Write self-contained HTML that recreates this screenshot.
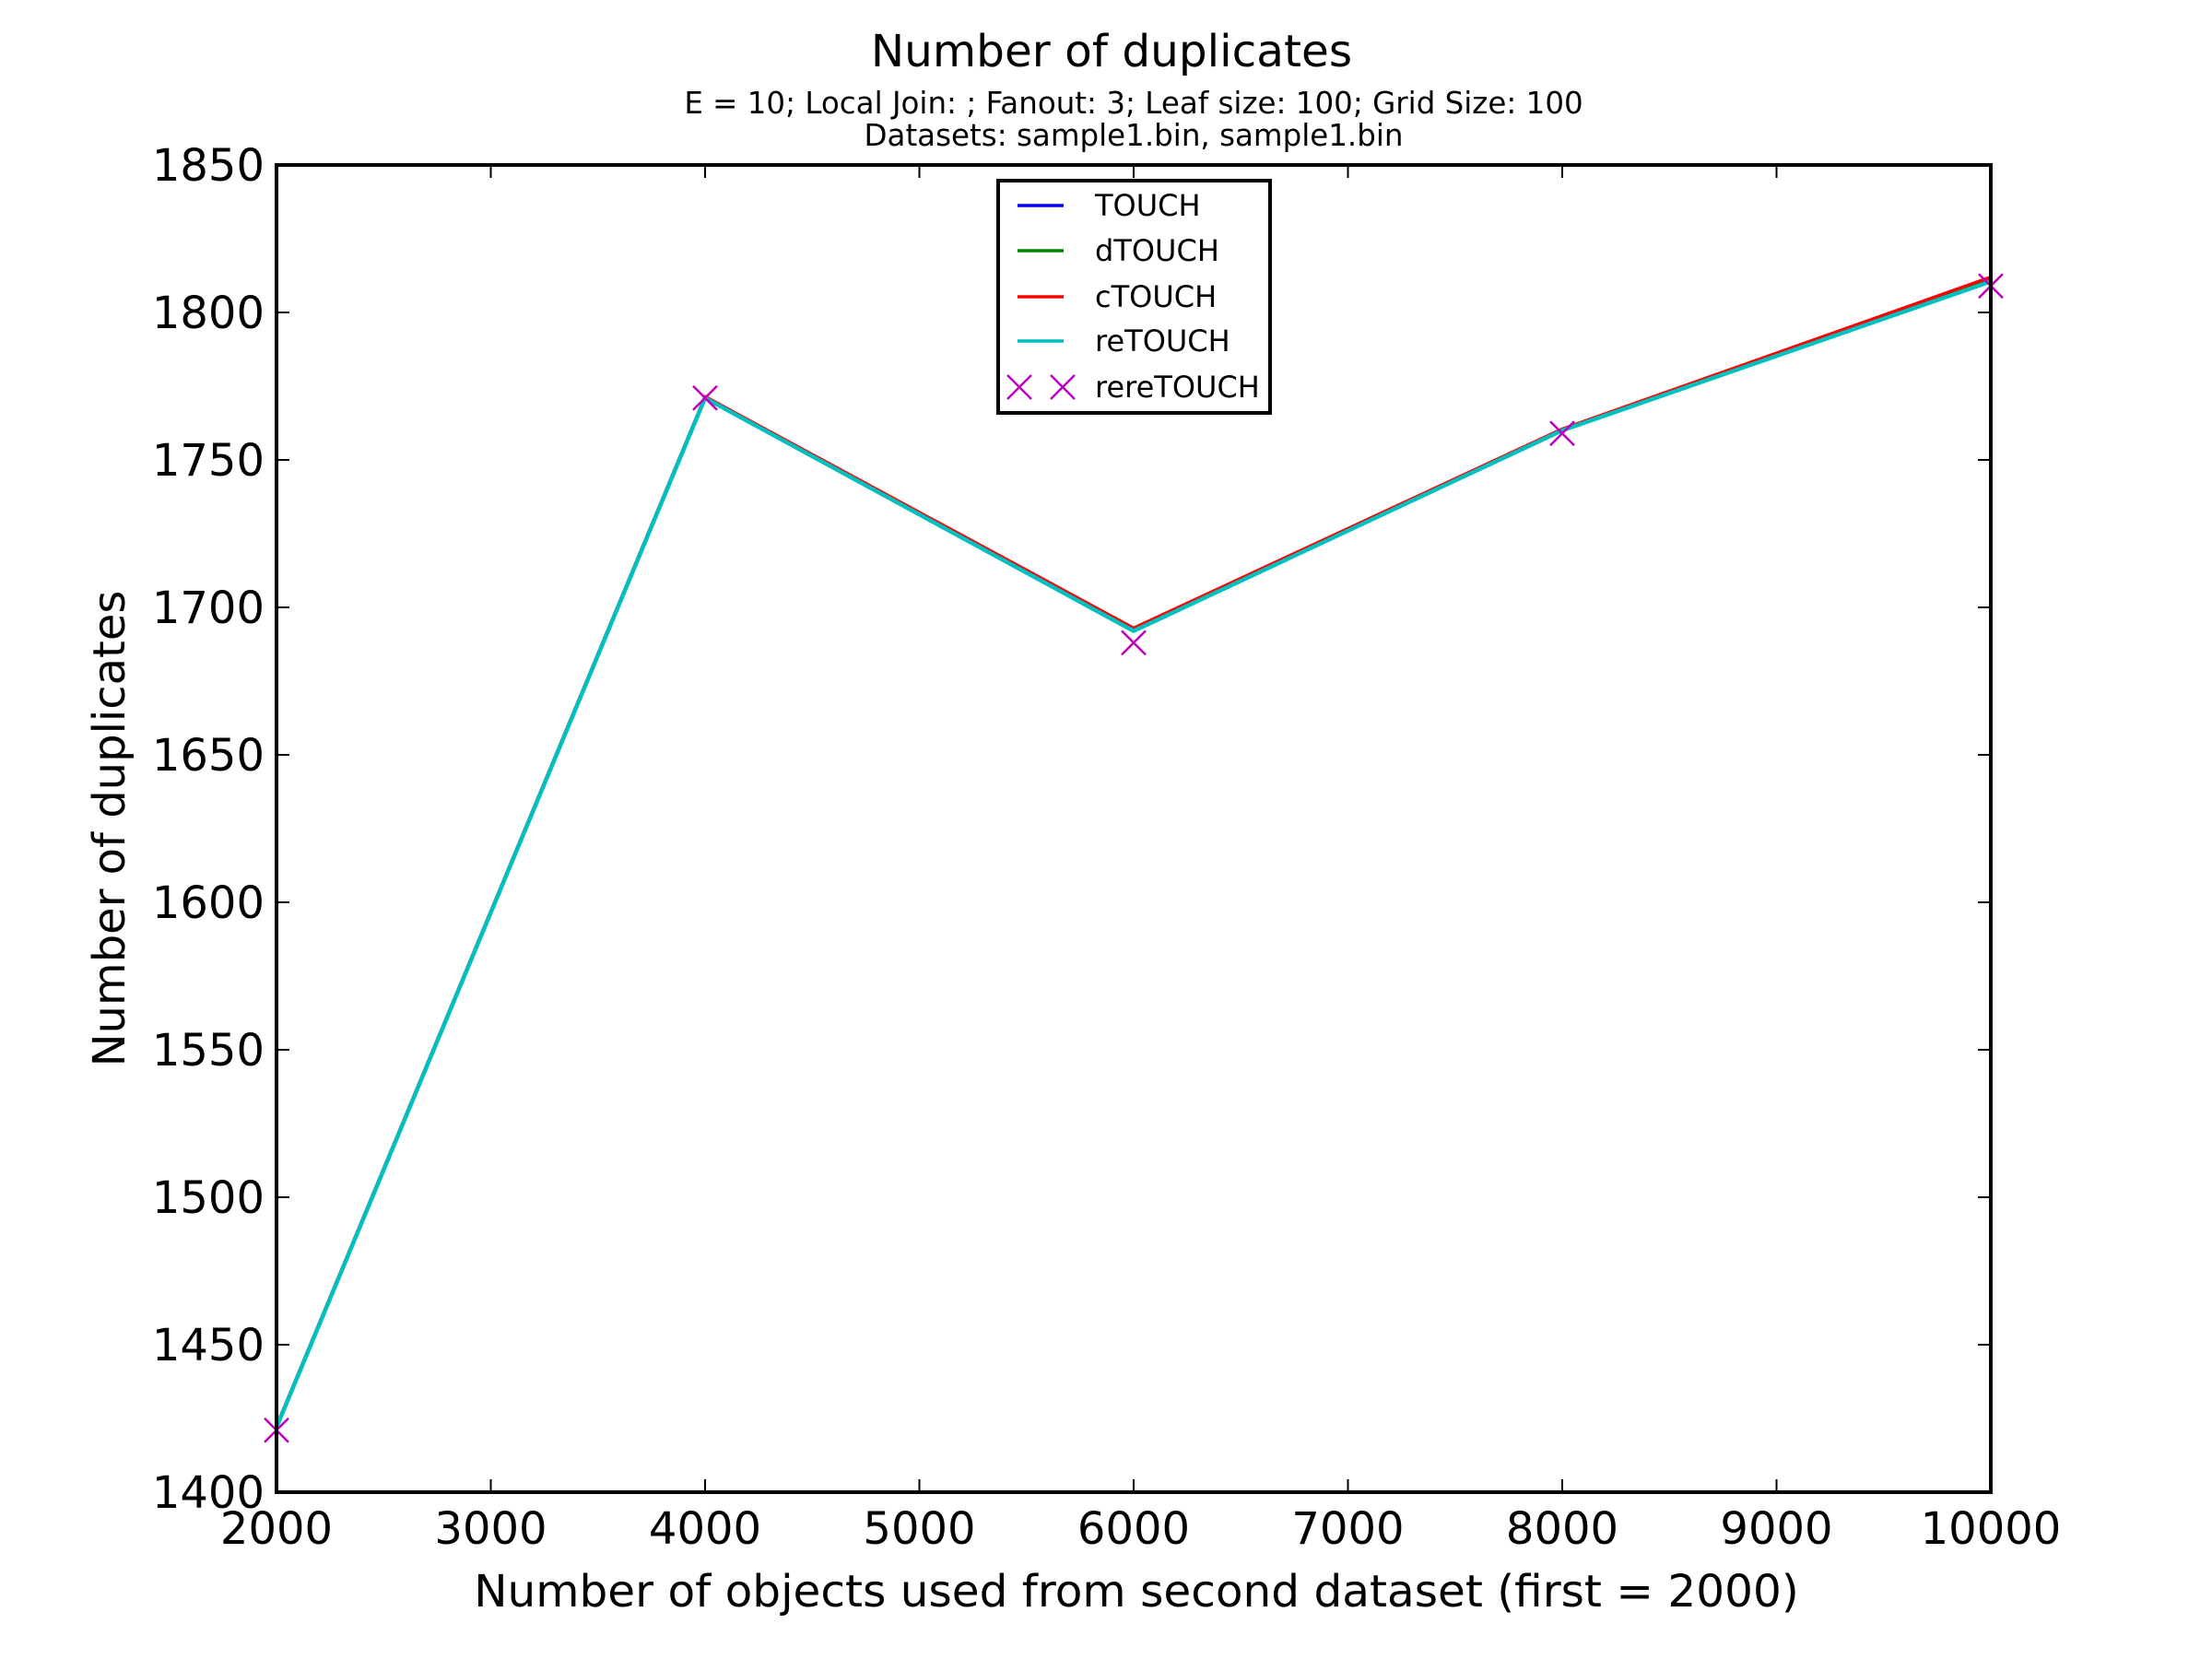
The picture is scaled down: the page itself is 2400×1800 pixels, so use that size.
<!DOCTYPE html>
<html><head><meta charset="utf-8"><style>
html,body{margin:0;padding:0;background:#fff}
svg{display:block}
text{font-family:"DejaVu Sans","Liberation Sans",sans-serif;fill:#000}
</style></head><body>
<svg id="chart" width="2400" height="1800" viewBox="0 0 2400 1800" xmlns="http://www.w3.org/2000/svg">
<rect width="2400" height="1800" fill="#fff"/>
<text x="1206" y="72" font-size="48.5" text-anchor="middle">Number of duplicates</text>
<text x="1230" y="123" font-size="32.5" text-anchor="middle">E = 10; Local Join: ; Fanout: 3; Leaf size: 100; Grid Size: 100</text>
<text x="1230" y="158" font-size="32.5" text-anchor="middle">Datasets: sample1.bin, sample1.bin</text>
<g id="ticks"></g>
<g id="series"></g>
<rect x="300" y="179" width="1860" height="1440" fill="none" stroke="#000" stroke-width="4"/>
<text x="1233" y="1743" font-size="48.5" text-anchor="middle">Number of objects used from second dataset (first = 2000)</text>
<text x="0" y="0" font-size="48" text-anchor="middle" transform="translate(135,899) rotate(-90)">Number of duplicates</text>
<g id="legend">
<rect x="1083" y="196" width="295" height="252" fill="#fff" stroke="#000" stroke-width="4"/>
</g>
</svg>
<script>
const xCats = [2000, 4000, 6000, 8000, 10000];
const touchVals = [1422, 1771, 1692.5, 1760, 1811.5];
const dtouchVals = [1422, 1771, 1692.5, 1760, 1811.5];
const ctouchVals = [1422, 1771, 1692.5, 1760, 1811.5];
const retouchVals = [1422, 1771, 1692, 1760, 1810.5];
const reretouchVals = [1421, 1771, 1688, 1759, 1809];
const xTicks = [2000, 3000, 4000, 5000, 6000, 7000, 8000, 9000, 10000];
const yTicks = [1400, 1450, 1500, 1550, 1600, 1650, 1700, 1750, 1800, 1850];
const seriesNames = ["TOUCH", "dTOUCH", "cTOUCH", "reTOUCH", "rereTOUCH"];

const NS = "http://www.w3.org/2000/svg";
const L = 300, R = 2160, T = 179, B = 1619;
const X0 = 2000, X1 = 10000, Y0 = 1400, Y1 = 1850;
function xs(v){ return L + (v - X0) / (X1 - X0) * (R - L); }
function ys(v){ return B - (v - Y0) / (Y1 - Y0) * (B - T); }
function mk(tag, attrs, parent){
  const e = document.createElementNS(NS, tag);
  for (const k in attrs) e.setAttribute(k, attrs[k]);
  parent.appendChild(e);
  return e;
}
const tg = document.getElementById('ticks');
xTicks.forEach(v => {
  const x = xs(v);
  let t1 = mk('line', {x1:x, y1:B, x2:x, y2:B-14, stroke:'#000', 'stroke-width':2}, tg);
  
  
  let t2 = mk('line', {x1:x, y1:T, x2:x, y2:T+14, stroke:'#000', 'stroke-width':2}, tg);
  
  
  let lb = mk('text', {x:x, y:1675, 'font-size':48, 'text-anchor':'middle'}, tg);
  lb.textContent = v;
  
  
});
yTicks.forEach(v => {
  const y = ys(v);
  let t1 = mk('line', {x1:L, y1:y, x2:L+14, y2:y, stroke:'#000', 'stroke-width':2}, tg);
  
  
  let t2 = mk('line', {x1:R, y1:y, x2:R-14, y2:y, stroke:'#000', 'stroke-width':2}, tg);
  
  
  let lb = mk('text', {x:287, y:y+17, 'font-size':48, 'text-anchor':'end'}, tg);
  lb.textContent = v;
  
  
});
const sg = document.getElementById('series');
const lineSeries = [[touchVals,'#0000ff','touch-line'],[dtouchVals,'#008000','dtouch-line'],[ctouchVals,'#ff0000','ctouch-line'],[retouchVals,'#00bfbf','retouch-line']];
lineSeries.forEach((s, i) => {
  const pts = xCats.map((c, j) => xs(c) + ',' + (ys(s[0][j]) - (i === 2 ? 1.5 : 0))).join(' ');
  let p = mk('polyline', {points:pts, fill:'none', stroke:s[1], 'stroke-width':i === 3 ? 4.5 : 3.5, 'stroke-linejoin':'round'}, sg);
  
  
});
function xMark(cx, cy, parent){
  const h = 13;
  let g = mk('path', {d:`M${cx-h},${cy-h}L${cx+h},${cy+h}M${cx-h},${cy+h}L${cx+h},${cy-h}`, stroke:'#bf00bf', 'stroke-width':2.5, fill:'none'}, parent);
  return g;
}
xCats.forEach((c, j) => {
  const m = xMark(xs(c), ys(reretouchVals[j]), sg);
  
  
});
const lg = document.getElementById('legend');
const lcolors = ['#0000ff','#008000','#ff0000','#00bfbf'];
const ly = [223, 272, 322, 370, 420];
seriesNames.forEach((n, i) => {
  if (i < 4) {
    let l = mk('line', {x1:1104, y1:ly[i], x2:1154, y2:ly[i], stroke:lcolors[i], 'stroke-width':3.5}, lg);
    
    
  } else {
    let a = xMark(1106, ly[i], lg);
    
    
    let b = xMark(1153, ly[i], lg);
    
    
  }
  let t = mk('text', {x:1188, y:ly[i]+11, 'font-size':32}, lg);
  t.textContent = n;
  
  
});
</script>
</body></html>
